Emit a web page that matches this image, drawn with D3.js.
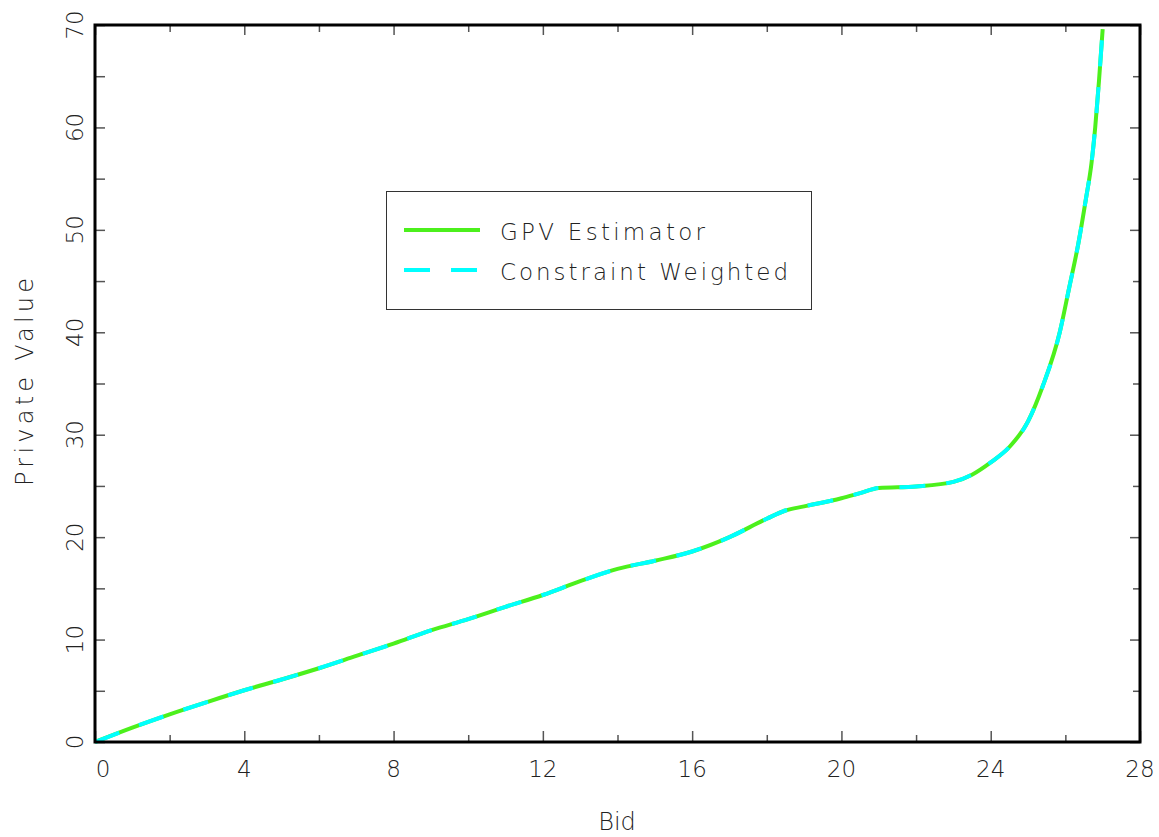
<!DOCTYPE html>
<html>
<head>
<meta charset="utf-8">
<script src="https://cdn.jsdelivr.net/npm/d3@7"></script>
<style>
  body { margin: 0; background: #fff; }
  text { font-family: "DejaVu Sans", sans-serif; font-weight: 200; fill: #222; }
</style>
</head>
<body>
<script>
// values
var bids = [0, 1, 2, 3, 4, 5, 6, 7, 8, 9, 10, 11, 12, 13, 14, 15, 16, 17, 18, 18.5, 19, 20, 20.5, 21, 22, 23, 23.5, 24, 24.5, 25, 25.4, 25.85, 26.1, 26.35, 26.55, 26.7, 26.8, 26.9, 27.0];
var gpvValues = [0, 1.4, 2.7, 3.9, 5.05, 6.1, 7.2, 8.4, 9.6, 10.9, 12.0, 13.2, 14.35, 15.7, 16.9, 17.7, 18.6, 20.0, 21.8, 22.6, 23.0, 23.8, 24.3, 24.8, 24.95, 25.4, 26.1, 27.3, 28.8, 31.3, 34.8, 40.0, 44.3, 48.7, 53.0, 56.5, 60.0, 64.5, 69.6];
var cwValues = [0, 1.4, 2.7, 3.9, 5.05, 6.1, 7.2, 8.4, 9.6, 10.9, 12.0, 13.2, 14.35, 15.7, 16.9, 17.7, 18.6, 20.0, 21.8, 22.6, 23.0, 23.8, 24.3, 24.8, 24.95, 25.4, 26.1, 27.3, 28.8, 31.3, 34.8, 40.0, 44.3, 48.7, 53.0, 56.5, 60.0, 64.5, 69.6];

var xMajor = [0, 4, 8, 12, 16, 20, 24, 28];
var xMinor = [2, 6, 10, 14, 18, 22, 26];
var yMajor = [0, 10, 20, 30, 40, 50, 60, 70];
var yMinor = [5, 15, 25, 35, 45, 55, 65];

var seriesNames = ["GPV Estimator", "Constraint Weighted"];
var green = "#4cf01c", cyan = "#00ffff";

function main(){
	var svg = d3.select("body").append("svg").attr("width", 1159).attr("height", 837);

	var left = 95, right = 1140, top = 25, bottom = 742;
	var x = d3.scaleLinear().domain([0, 28]).range([left, right]);
	var y = d3.scaleLinear().domain([0, 70]).range([bottom, top]);

	function ticks(axis, pos, vals, size){
		var g = svg.append("g").attr("transform", pos)
			.call(axis.tickValues(vals).tickSize(size).tickFormat(""));
		g.select(".domain").remove();
		g.selectAll("line").attr("stroke", "#555").attr("stroke-width", 1.5);
		return g;
	}

	// inward ticks on all four sides
	ticks(d3.axisBottom(x), "translate(0," + bottom + ")", xMajor, -11);
	ticks(d3.axisBottom(x), "translate(0," + bottom + ")", xMinor, -7);
	ticks(d3.axisTop(x), "translate(0," + top + ")", xMajor, -10);
	ticks(d3.axisTop(x), "translate(0," + top + ")", xMinor, -7);
	ticks(d3.axisLeft(y), "translate(" + left + ",0)", yMajor, -10);
	ticks(d3.axisLeft(y), "translate(" + left + ",0)", yMinor, -10);
	ticks(d3.axisRight(y), "translate(" + right + ",0)", yMajor, -10);
	ticks(d3.axisRight(y), "translate(" + right + ",0)", yMinor, -7);

	// tick labels
	svg.selectAll(".xl").data(xMajor).enter().append("text")
		.attr("x", function(d){ return x(d) + (d === 0 ? 8 : 0); })
		.attr("y", 777)
		.attr("text-anchor", "middle")
		.style("font-size", "23px")
		.text(function(d){ return d; });

	svg.selectAll(".yl").data(yMajor).enter().append("text")
		.attr("transform", function(d){ return "translate(83," + y(d) + ") rotate(-90)"; })
		.attr("text-anchor", "middle")
		.style("font-size", "23px")
		.text(function(d){ return d; });

	svg.append("text").attr("x", 617).attr("y", 830).attr("text-anchor", "middle")
		.style("font-size", "24px").text("Bid");
	svg.append("text").attr("transform", "translate(33,278) rotate(-90)").attr("text-anchor", "end")
		.style("font-size", "24px").attr("textLength", 208).attr("lengthAdjust", "spacing")
		.text("Private Value");

	// curves
	var line = d3.line().curve(d3.curveMonotoneX);
	var gpv = bids.map(function(b, i){ return [x(b), y(gpvValues[i])]; });
	var cw = bids.map(function(b, i){ return [x(b), y(cwValues[i])]; });

	svg.append("path").attr("d", line(gpv)).attr("fill", "none")
		.attr("stroke", green).attr("stroke-width", 4);
	svg.append("path").attr("d", line(cw)).attr("fill", "none")
		.attr("stroke", cyan).attr("stroke-width", 4).attr("stroke-dasharray", "26,21");

	// frame
	svg.append("rect").attr("x", left).attr("y", top)
		.attr("width", right - left).attr("height", bottom - top)
		.attr("fill", "none").attr("stroke", "#000").attr("stroke-width", 3);

	// legend
	var lg = svg.append("g");
	lg.append("rect").attr("x", 386.5).attr("y", 191.5).attr("width", 425).attr("height", 118)
		.attr("fill", "#fff").attr("stroke", "#333").attr("stroke-width", 1);
	lg.append("line").attr("x1", 404).attr("x2", 480).attr("y1", 230).attr("y2", 230)
		.attr("stroke", green).attr("stroke-width", 4);
	lg.append("line").attr("x1", 404).attr("x2", 478).attr("y1", 270).attr("y2", 270)
		.attr("stroke", cyan).attr("stroke-width", 4).attr("stroke-dasharray", "26,21");
	lg.append("text").attr("x", 500).attr("y", 240).style("font-size", "23px")
		.attr("textLength", 205).attr("lengthAdjust", "spacing").text(seriesNames[0]);
	lg.append("text").attr("x", 500).attr("y", 280).style("font-size", "23px")
		.attr("textLength", 288).attr("lengthAdjust", "spacing").text(seriesNames[1]);
}

main();
</script>
</body>
</html>
